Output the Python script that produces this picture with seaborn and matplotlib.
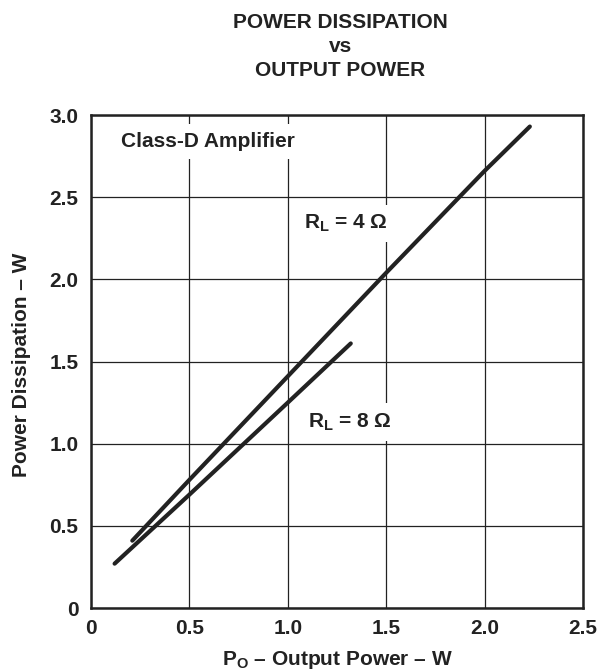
import pandas as pd
import seaborn as sns
import matplotlib.pyplot as plt

# curve data
x_4ohm = [0.21, 0.5, 1.0, 1.5, 2.0, 2.23]
y_4ohm = [0.41, 0.78, 1.41, 2.04, 2.66, 2.93]
x_8ohm = [0.12, 0.5, 1.0, 1.32]
y_8ohm = [0.27, 0.69, 1.25, 1.61]

x_ticks = [0, 0.5, 1.0, 1.5, 2.0, 2.5]
x_tick_labels = ["0", "0.5", "1.0", "1.5", "2.0", "2.5"]
y_ticks = [0, 0.5, 1.0, 1.5, 2.0, 2.5, 3.0]
y_tick_labels = ["0", "0.5", "1.0", "1.5", "2.0", "2.5", "3.0"]

df = pd.concat([
    pd.DataFrame({"Po": x_4ohm, "Pd": y_4ohm, "load": "4"}),
    pd.DataFrame({"Po": x_8ohm, "Pd": y_8ohm, "load": "8"}),
])

sns.set_style("white")
plt.rcParams['font.family'] = ['Liberation Sans', 'DejaVu Sans']
plt.rcParams['font.weight'] = 'bold'
plt.rcParams['mathtext.fontset'] = 'custom'
plt.rcParams['mathtext.rm'] = 'Liberation Sans:bold'
plt.rcParams['mathtext.default'] = 'rm'

ink = "#222222"
fs = 15

fig = plt.figure(figsize=(6.01, 6.72), dpi=100)
ax = fig.add_axes([0.1514, 0.0952, 0.8186, 0.7336])

sns.lineplot(data=df, x="Po", y="Pd", hue="load", units="load", estimator=None,
             sort=False, palette={"4": ink, "8": ink}, linewidth=3.0,
             legend=False, ax=ax, solid_capstyle="round", zorder=3)

ax.set_xlim(0, 2.5)
ax.set_ylim(0, 3.0)
ax.set_xticks(x_ticks)
ax.set_xticklabels(x_tick_labels)
ax.set_yticks(y_ticks)
ax.set_yticklabels(y_tick_labels)
ax.tick_params(length=0, labelsize=fs, colors=ink)
ax.tick_params(axis="y", pad=9)
ax.tick_params(axis="x", pad=8)
for lab in ax.get_xticklabels() + ax.get_yticklabels():
    lab.set_fontweight('bold')
ax.grid(True, color=ink, linewidth=0.9)
for sp in ax.spines.values():
    sp.set_color(ink)
    sp.set_linewidth(1.8)
    sp.set_zorder(4)
ax.set_xlabel("")
ax.set_ylabel("")

# labels sit on white boxes so the grid is broken behind them
box = dict(facecolor="white", edgecolor="none", pad=6)
ax.text(0.155, 2.84, "Class-D Amplifier", fontsize=fs, fontweight="bold",
        color=ink, va="center", ha="left", bbox=box, zorder=2)
ax.text(1.08, 2.34, r"R$_{L}$ = 4 Ω", fontsize=fs, fontweight="bold",
        color=ink, va="center", ha="left", bbox=box, zorder=2)
ax.text(1.105, 1.13, r"R$_{L}$ = 8 Ω", fontsize=fs, fontweight="bold",
        color=ink, va="center", ha="left", bbox=box, zorder=2)

title_lines = ["POWER DISSIPATION", "vs", "OUTPUT POWER"]
for line, ypix in zip(title_lines, [22, 46, 70]):
    fig.text(0.566, 1 - ypix / 672, line, ha="center", va="center",
             fontsize=fs, fontweight="bold", color=ink)
fig.text(337 / 601, 1 - 660 / 672, r"P$_{O}$ – Output Power – W", ha="center",
         va="center", fontsize=fs, fontweight="bold", color=ink)
fig.text(22 / 601, 1 - 365 / 672, "Power Dissipation – W", ha="center",
         va="center", rotation=90, fontsize=fs, fontweight="bold", color=ink)

plt.savefig("out.png", dpi=100)
